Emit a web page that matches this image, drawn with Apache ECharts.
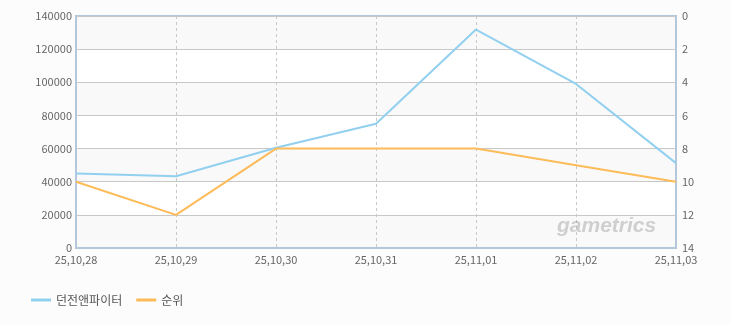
<!DOCTYPE html>
<html>
<head>
<meta charset="utf-8">
<script src="https://cdn.jsdelivr.net/npm/echarts@6/dist/echarts.min.js"></script>
<style>
html,body{margin:0;padding:0;background:#fcfcfc;}
#c{width:730px;height:325px;}
</style>
</head>
<body>
<div id="c"></div>
<script>
var categories = ['25,10,28','25,10,29','25,10,30','25,10,31','25,11,01','25,11,02','25,11,03'];
var visitors = [45000, 43300, 60500, 75000, 131800, 99000, 51200];
var ranks = [10, 12, 8, 8, 8, 9, 10];
var seriesNames = ['던전앤파이터', '순위'];

var chart = echarts.init(document.getElementById('c'));
var labelStyle = {color:'#666', fontSize:11, fontFamily:'"Noto Sans CJK KR", sans-serif'};
chart.setOption({
  backgroundColor:'#fcfcfc',
  animation:false,
  grid:{left:76, right:54, top:16, bottom:77, show:true, backgroundColor:'transparent', borderColor:'#b5c7da', borderWidth:2},
  legend:{
    bottom:14, left:26, itemWidth:20, itemHeight:3, itemGap:14,
    icon:'rect',
    textStyle:{color:'#555', fontSize:12, fontFamily:'"Noto Sans CJK KR", sans-serif'},
    data:seriesNames
  },
  xAxis:{
    type:'category', data:categories, boundaryGap:false,
    axisLine:{lineStyle:{color:'#b5c7da', width:2}},
    axisTick:{show:false},
    axisLabel:Object.assign({margin:6, interval:0}, labelStyle),
    splitLine:{show:true, lineStyle:{color:'#c8c8c8', type:[3,3]}}
  },
  yAxis:[{
    type:'value', min:0, max:140000, interval:20000,
    axisLine:{show:true, lineStyle:{color:'#b5c7da', width:2}},
    axisTick:{show:false},
    axisLabel:Object.assign({margin:4, formatter:function(v){return String(v);}}, labelStyle),
    splitLine:{lineStyle:{color:'#c8c8c8'}},
    splitArea:{show:true, areaStyle:{color:['#f9f9f9','#ffffff']}}
  },{
    type:'value', min:0, max:14, interval:2, inverse:true,
    axisLine:{show:true, lineStyle:{color:'#b5c7da', width:2}},
    axisTick:{show:false},
    axisLabel:Object.assign({margin:6}, labelStyle),
    splitLine:{show:false}
  }],
  graphic:[{
    type:'text', z:100, x:557, y:216,
    style:{text:'gametrics', fill:'rgba(150,150,150,0.42)', font:'italic bold 21px "Liberation Sans", sans-serif', textAlign:'left', textVerticalAlign:'top'}
  }],
  series:[{
    name:seriesNames[0], type:'line', data:visitors, yAxisIndex:0,
    symbol:'none', lineStyle:{color:'#92d0f0', width:2}, itemStyle:{color:'#92d0f0'}
  },{
    name:seriesNames[1], type:'line', data:ranks, yAxisIndex:1,
    symbol:'none', lineStyle:{color:'#fdbb5a', width:2}, itemStyle:{color:'#fdbb5a'}
  }]
});
</script>
</body>
</html>
